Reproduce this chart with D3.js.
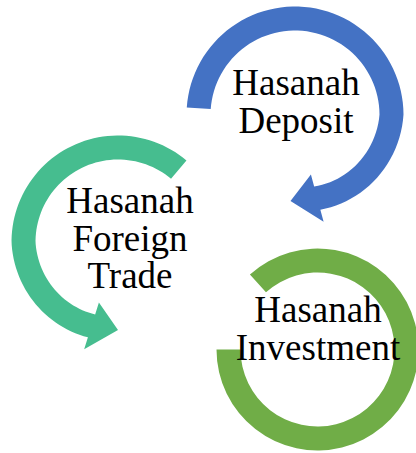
<!DOCTYPE html>
<html>
<head>
<meta charset="utf-8">
<script src="https://cdn.jsdelivr.net/npm/d3@7"></script>
<style>
  html, body { margin: 0; padding: 0; background: #fff; }
  svg { display: block; }
</style>
</head>
<body>
<svg id="chart" width="416" height="453"></svg>
<script>
// cycle stages, one label per shape
var stageNames = ['Hasanah Deposit', 'Hasanah Foreign Trade', 'Hasanah Investment'];
var stageLines = [['Hasanah', 'Deposit'], ['Hasanah', 'Foreign', 'Trade'], ['Hasanah', 'Investment']];
var stageColors = ['#4472C4', '#46BD8F', '#70AD47'];

var svg = d3.select('#chart');
var rad = Math.PI / 180;

// angle 0 at 12 o'clock, clockwise positive (same as d3.arc)
function polar(cx, cy, r, a) {
  return [cx + r * Math.sin(a * rad), cy - r * Math.cos(a * rad)];
}

/**
 * Builds the outline of a circular arrow. The band keeps its radius until
 * taperFrom, then narrows in towards the arrow head.
 */
function arrowOutline(o) {
  var dir = o.end > o.start ? 1 : -1;
  var steps = 80;
  var midAt = function (a) {
    var t = (a - o.taperFrom) / (o.end - o.taperFrom);
    if (t <= 0) return o.r;
    return o.r + (o.rEnd - o.r) * t;
  };
  var outer = [], inner = [];
  for (var i = 0; i <= steps; i++) {
    var a = o.start + (o.end - o.start) * i / steps;
    var m = midAt(a);
    outer.push(polar(o.cx, o.cy, m + o.band / 2, a));
    inner.push(polar(o.cx, o.cy, m - o.band / 2, a));
  }
  var head = [
    polar(o.cx, o.cy, o.rEnd + o.wing, o.end),
    polar(o.cx, o.cy, o.rEnd, o.end + dir * o.tip),
    polar(o.cx, o.cy, o.rEnd - o.wing, o.end)
  ];
  return outer.concat(head, inner.reverse());
}

var line = d3.line().curve(d3.curveLinearClosed);

var shapes = [
  {cx: 295, cy: 115, r: 96.5, band: 24, start: -86, end: 165, taperFrom: 90, rEnd: 86, wing: 24.5, tip: 18},
  {cx: 118, cy: 242, r: 94.5, band: 24, start: 40, end: -162.5, taperFrom: -90, rEnd: 88, wing: 24.5, tip: 17.5}
];

svg.selectAll('path.arrow')
  .data(shapes)
  .join('path')
  .attr('class', 'arrow')
  .attr('fill', function (d, i) { return stageColors[i]; })
  .attr('d', function (d) { return line(arrowOutline(d)); });

// third stage is an open ring with no head
var ring = d3.arc()
  .innerRadius(77)
  .outerRadius(101)
  .startAngle(-42 * rad)
  .endAngle(270 * rad);

svg.append('path')
  .attr('fill', stageColors[2])
  .attr('transform', 'translate(317.5, 349.5)')
  .attr('d', ring());

// label positions: centre x and first baseline
var labelPos = [[296, 95], [130, 213], [318, 322]];
var lineStep = 37.5;

var labels = svg.selectAll('text.stage')
  .data(stageLines)
  .join('text')
  .attr('class', 'stage')
  .attr('text-anchor', 'middle')
  .attr('font-family', '"Liberation Serif", "Times New Roman", serif')
  .attr('font-size', 37)
  .attr('fill', '#000');

labels.selectAll('tspan')
  .data(function (d, i) {
    return d.map(function (t) { return {text: t, idx: i}; });
  })
  .join('tspan')
  .attr('x', function (d) { return labelPos[d.idx][0]; })
  .attr('y', function (d, j) { return labelPos[d.idx][1] + j * lineStep; })
  .text(function (d) { return d.text; });
</script>
</body>
</html>
